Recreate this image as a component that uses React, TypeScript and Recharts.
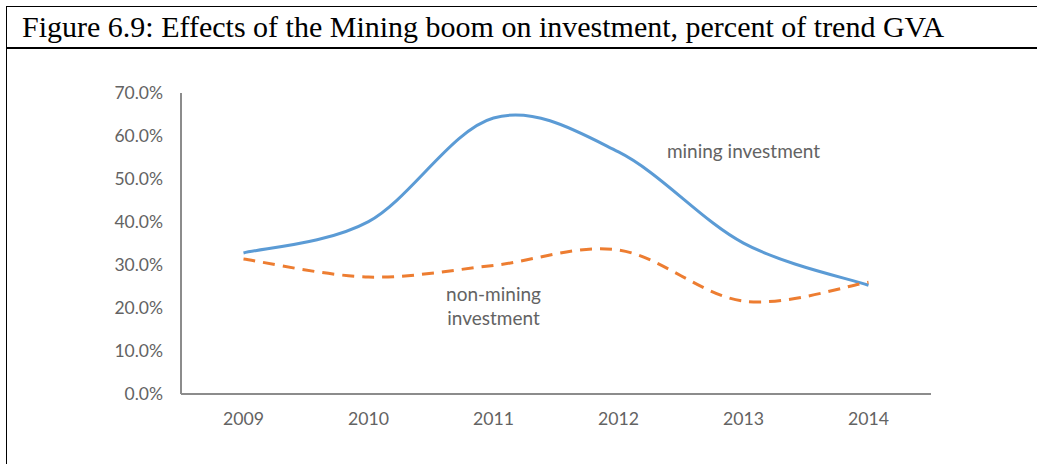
import React from 'react';
import { LineChart, Line, XAxis, YAxis, ReferenceDot } from 'recharts';

const years = ['2009', '2010', '2011', '2012', '2013', '2014'];
const mining = [32.8, 40.1, 64.2, 56.3, 35.1, 25.3];
const nonMining = [31.4, 27.2, 29.9, 33.5, 21.6, 26.0];
const yTicks = [0, 10, 20, 30, 40, 50, 60, 70];

const data = years.map((year, i) => ({ year, mining: mining[i], nonMining: nonMining[i] }));

// Excel-style smoothed line (Catmull-Rom through the points)
const excelSmooth = (context: any) => {
  let pts: [number, number][] = [];
  return {
    areaStart() {},
    areaEnd() {},
    lineStart() {
      pts = [];
    },
    point(x: number, y: number) {
      pts.push([+x, +y]);
    },
    lineEnd() {
      if (!pts.length) return;
      context.moveTo(pts[0][0], pts[0][1]);
      for (let i = 0; i < pts.length - 1; i++) {
        const p0 = pts[i - 1] || pts[i];
        const p1 = pts[i];
        const p2 = pts[i + 1];
        const p3 = pts[i + 2] || p2;
        context.bezierCurveTo(
          p1[0] + (p2[0] - p0[0]) / 6,
          p1[1] + (p2[1] - p0[1]) / 6,
          p2[0] - (p3[0] - p1[0]) / 6,
          p2[1] - (p3[1] - p1[1]) / 6,
          p2[0],
          p2[1]
        );
      }
    },
  };
};

const textGray = '#636363';
const font = 'Lato, "Open Sans", sans-serif';

const App: React.FC = () => {
  return (
    <div style={{ position: 'absolute', left: 0, top: 0, width: 1037, height: 464, background: '#fff', overflow: 'hidden' }}>
      {/* frame */}
      <div
        style={{
          position: 'absolute',
          left: 6,
          top: 6,
          width: 1040,
          height: 470,
          borderLeft: '1.5px solid #000',
          borderTop: '1.5px solid #000',
        }}
      />
      <div style={{ position: 'absolute', left: 6, top: 47, width: 1040, height: 2, background: '#000' }} />
      <div
        style={{
          position: 'absolute',
          left: 22,
          top: 12,
          fontFamily: '"Liberation Serif", "Times New Roman", serif',
          fontSize: 30,
          lineHeight: '30px',
          color: '#000',
          whiteSpace: 'nowrap',
        }}
      >
        Figure 6.9: Effects of the Mining boom on investment, percent of trend GVA
      </div>

      <div style={{ position: 'absolute', left: 0, top: 0 }}>
        <LineChart width={1037} height={464} data={data} margin={{ top: 93, right: 106, bottom: 40, left: 121 }}>
          <XAxis
            dataKey="year"
            padding={{ left: 62.5, right: 62.5 }}
            axisLine={{ stroke: '#8c8c8c', strokeWidth: 2 }}
            tickLine={false}
            tickSize={0}
            tickMargin={18}
            height={30}
            tick={{ fill: textGray, fontSize: 17.7, fontFamily: font }}
          />
          <YAxis
            domain={[0, 70]}
            ticks={yTicks}
            width={60}
            axisLine={{ stroke: '#8c8c8c', strokeWidth: 2 }}
            tickLine={false}
            tickSize={6}
            tickMargin={12}
            tickFormatter={(v: number) => `${v.toFixed(1)}%`}
            tick={{ fill: textGray, fontSize: 17.5, fontFamily: font }}
          />
          <Line
            dataKey="mining"
            type={excelSmooth as any}
            stroke="#5B9BD5"
            strokeWidth={3}
            dot={false}
            isAnimationActive={false}
          />
          <Line
            dataKey="nonMining"
            type={excelSmooth as any}
            stroke="#ED7D31"
            strokeWidth={3}
            strokeDasharray="12 8"
            dot={false}
            isAnimationActive={false}
          />
          <ReferenceDot
            x="2013"
            y={56.5}
            r={0}
            fill="none"
            stroke="none"
            label={{ value: 'mining investment', position: 'center', fill: textGray, fontSize: 19, fontFamily: font }}
          />
          <ReferenceDot
            x="2011"
            y={23.2}
            r={0}
            fill="none"
            stroke="none"
            label={{ value: 'non-mining', position: 'center', fill: textGray, fontSize: 19, fontFamily: font }}
          />
          <ReferenceDot
            x="2011"
            y={17.5}
            r={0}
            fill="none"
            stroke="none"
            label={{ value: 'investment', position: 'center', fill: textGray, fontSize: 19, fontFamily: font }}
          />
        </LineChart>
      </div>
    </div>
  );
};

export default App;
